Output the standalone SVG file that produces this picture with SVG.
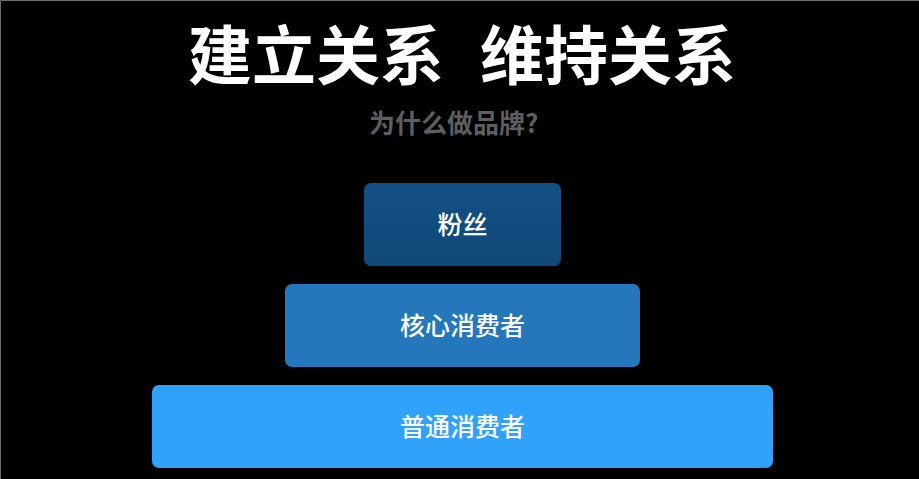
<svg xmlns="http://www.w3.org/2000/svg" width="919" height="479" viewBox="0 0 919 479">
  <defs>
    <linearGradient id="g1" x1="0" y1="0" x2="0" y2="1">
      <stop offset="0" stop-color="#135084"/>
      <stop offset="1" stop-color="#0f4979"/>
    </linearGradient>
    <style>
      .lbl { font-family: "Noto Sans CJK SC", "Noto Sans", sans-serif; font-size: 25px; font-weight: 500; fill: #ffffff; text-anchor: middle; }
      .title { font-family: "Noto Sans CJK SC", "Noto Sans", sans-serif; font-size: 64px; font-weight: 700; fill: #ffffff; }
      .sub { font-family: "Noto Sans CJK SC", "Noto Sans", sans-serif; font-size: 26px; font-weight: 700; fill: #5e5e5e; }
    </style>
  </defs>
  <rect x="0" y="0" width="919" height="479" fill="#000000"/>
  <path d="M0.5 479 V0.5 H919" fill="none" stroke="#6e6e6e" stroke-width="1"/>
  <text class="title" y="79"><tspan x="188">建立关系</tspan><tspan x="480">维持关系</tspan></text>
  <text class="sub" x="369" y="133">为什么做品牌?</text>
  <g id="connectors"></g>
  <g id="node-fans">
    <rect x="364" y="183" width="197" height="83" rx="7" fill="url(#g1)"/>
    <text class="lbl" x="462.5" y="234">粉丝</text>
  </g>
  <g id="node-core">
    <rect x="285" y="284" width="355" height="83" rx="7" fill="#2377ba"/>
    <text class="lbl" x="462.5" y="335">核心消费者</text>
  </g>
  <g id="node-normal">
    <rect x="152" y="385" width="621" height="83" rx="7" fill="#31a2fb"/>
    <text class="lbl" x="462.5" y="436">普通消费者</text>
  </g>
</svg>
